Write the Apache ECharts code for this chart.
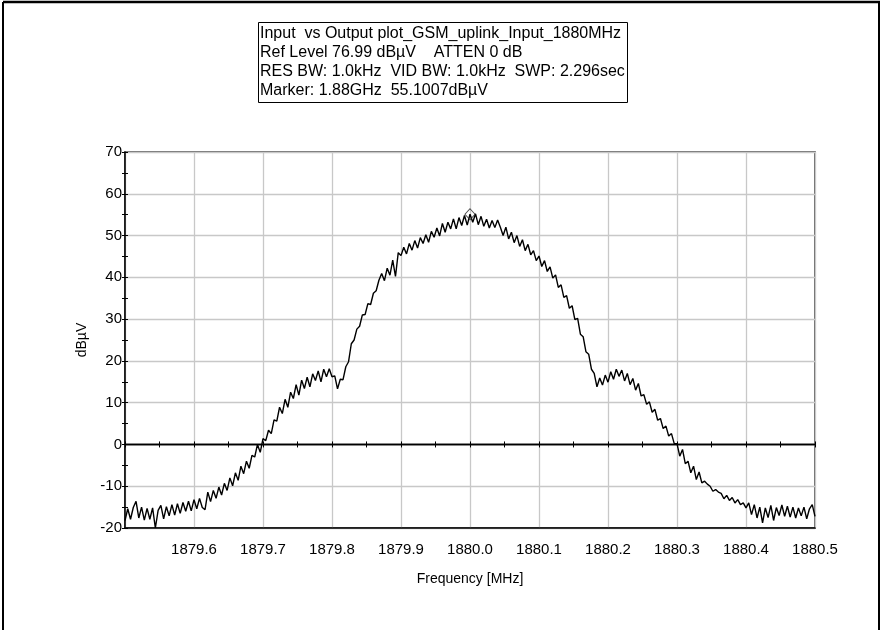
<!DOCTYPE html>
<html>
<head>
<meta charset="utf-8">
<script src="https://cdn.jsdelivr.net/npm/echarts@6/dist/echarts.min.js"></script>
<style>
  html, body { margin: 0; padding: 0; background: #fff; }
  #chart { width: 882px; height: 630px; }
</style>
</head>
<body>
<div id="chart"></div>
<script>
// Spectrum analyser sweep: GSM uplink channel centred on 1880 MHz
const FREQ_START = 1879.5;   // MHz, first sweep point
const FREQ_STEP = 0.004;     // MHz between sweep points

// Measured level at each sweep point, dBµV
const levels = [
  // 1879.500 – 1879.596
  -18.2, -15.4, -17.9, -15.1, -13.6, -17.6, -15.0, -18.1, -15.3, -17.9,
  -15.2, -20.0, -15.8, -14.6, -17.8, -14.9, -17.1, -14.4, -16.9, -14.2,
  -16.5, -13.9, -16.0, -13.6, -15.9,
  // 1879.600 – 1879.696
  -13.2, -15.4, -12.9, -15.1, -15.6, -11.4, -13.7, -11.0, -12.9, -10.2,
  -12.1, -9.3, -11.0, -8.0, -9.9, -6.8, -8.6, -5.2, -7.0, -4.0,
  -5.7, -2.6, -3.0, 0.0, -1.9,
  // 1879.700 – 1879.796
  1.4, 0.9, 3.4, 2.6, 5.9, 5.6, 8.9, 7.4, 10.8, 8.9,
  12.5, 11.0, 14.3, 11.8, 15.4, 13.4, 16.1, 13.8, 16.9, 15.3,
  17.6, 15.0, 18.0, 16.2, 18.1,
  // 1879.800 – 1879.896
  16.2, 16.4, 13.3, 15.6, 15.5, 18.6, 19.8, 24.1, 25.0, 27.6,
  28.3, 31.0, 31.1, 33.7, 33.5, 36.2, 36.8, 39.3, 40.9, 39.2,
  42.2, 40.5, 44.1, 40.2, 45.9,
  // 1879.900 – 1879.996
  45.2, 47.2, 45.6, 48.1, 46.5, 48.8, 47.0, 49.5, 48.1, 50.2,
  48.4, 51.0, 49.6, 51.8, 49.9, 52.9, 50.8, 53.2, 51.6, 54.0,
  51.6, 54.3, 52.4, 54.8, 52.5,
  // 1880.000 – 1880.096
  55.1, 53.2, 55.2, 52.6, 54.6, 52.2, 53.9, 51.8, 53.6, 51.9,
  53.7, 52.0, 50.0, 52.0, 49.2, 50.8, 48.3, 50.0, 47.4, 49.0,
  46.4, 47.9, 45.4, 46.4, 44.0,
  // 1880.100 – 1880.196
  45.1, 42.6, 44.0, 41.4, 42.5, 39.8, 40.6, 37.6, 38.2, 35.2,
  35.6, 32.6, 33.2, 29.9, 30.2, 26.4, 25.8, 22.2, 21.6, 18.0,
  17.0, 13.8, 15.9, 14.2, 16.6,
  // 1880.200 – 1880.296
  14.9, 17.4, 15.6, 18.0, 16.3, 17.8, 15.2, 17.0, 14.3, 15.8,
  13.0, 14.6, 11.6, 11.9, 9.6, 10.2, 7.7, 8.4, 5.8, 6.2,
  3.8, 4.4, 2.0, 2.6, 0.2,
  // 1880.300 – 1880.396
  0.2, -2.8, -1.2, -4.6, -4.0, -6.8, -5.2, -8.4, -6.6, -9.2,
  -8.8, -9.5, -10.0, -11.2, -10.8, -11.4, -11.7, -13.0, -12.2, -13.4,
  -12.7, -14.0, -13.2, -14.4, -14.0,
  // 1880.400 – 1880.500
  -15.2, -14.0, -16.8, -14.4, -17.6, -15.0, -18.8, -15.2, -17.5, -14.6,
  -18.2, -15.1, -17.0, -14.5, -17.2, -14.8, -17.4, -15.0, -17.6, -15.2,
  -17.1, -15.0, -17.8, -15.4, -14.4, -17.2
];

// Marker readout
const markerFreq = [1880.0];
const markerLevel = [55.1];

// Axis settings
const xMin = 1879.5, xMax = 1880.5, xStep = 0.1;
const yMin = -20, yMax = 70, yStep = 10;

// Instrument header text
const headerLines = [
  'Input  vs Output plot_GSM_uplink_Input_1880MHz',
  'Ref Level 76.99 dBµV    ATTEN 0 dB',
  'RES BW: 1.0kHz  VID BW: 1.0kHz  SWP: 2.296sec',
  'Marker: 1.88GHz  55.1007dBµV'
];
const xName = 'Frequency [MHz]';
const yName = 'dBµV';

const FONT = '"Liberation Sans", Arial, sans-serif';

const trace = levels.map((v, i) => [+(FREQ_START + i * FREQ_STEP).toFixed(4), v]);
const markerData = markerFreq.map((f, i) => [f, markerLevel[i]]);

const chart = echarts.init(document.getElementById('chart'), null, { renderer: 'canvas' });

const tickStyle = { color: '#000', width: 1 };

chart.setOption({
  animation: false,
  backgroundColor: '#fff',
  title: {
    text: headerLines.join('\n'),
    left: 258,
    top: 22,
    padding: [2, 3, 3, 2],
    borderColor: '#000',
    borderWidth: 1,
    textStyle: {
      fontFamily: FONT, fontSize: 16, fontWeight: 'normal',
      color: '#000', lineHeight: 19
    }
  },
  grid: {
    left: 125, right: 67, top: 152, bottom: 102,
    show: true, borderColor: '#3a3a3a', borderWidth: 1.5,
    containLabel: false
  },
  xAxis: [
    {
      type: 'value', min: xMin, max: xMax, interval: xStep,
      name: xName, nameLocation: 'middle', nameGap: 44,
      nameTextStyle: { fontFamily: FONT, fontSize: 14, color: '#000' },
      axisLine: { onZero: false, lineStyle: { color: '#000', width: 1.5 } },
      axisTick: { show: false },
      axisLabel: {
        showMinLabel: false, showMaxLabel: true, margin: 14,
        fontFamily: FONT, fontSize: 15, color: '#000',
        formatter: v => v.toFixed(1)
      },
      splitLine: { show: true, lineStyle: { color: '#c8c8c8', width: 1.3 } }
    },
    {
      // zero-level reference line with ticks above it
      type: 'value', min: xMin, max: xMax, interval: xStep / 2,
      axisLine: { onZero: true, lineStyle: { color: '#000', width: 1.3 } },
      axisTick: { show: true, inside: true, length: 3, lineStyle: tickStyle },
      axisLabel: { show: false },
      splitLine: { show: false }
    },
    {
      // ticks below the zero-level line
      type: 'value', min: xMin, max: xMax, interval: xStep / 2,
      axisLine: { onZero: true, lineStyle: { color: '#000', width: 1.3 } },
      axisTick: { show: true, inside: false, length: 3, lineStyle: tickStyle },
      axisLabel: { show: false },
      splitLine: { show: false }
    }
  ],
  yAxis: [
    {
      type: 'value', min: yMin, max: yMax, interval: yStep,
      name: yName, nameLocation: 'middle', nameGap: 35, nameRotate: 90,
      nameTextStyle: { fontFamily: FONT, fontSize: 14, color: '#000' },
      axisLine: { onZero: false, lineStyle: { color: '#000', width: 1.5 } },
      axisTick: { show: true, inside: false, length: 3, lineStyle: tickStyle },
      minorTick: { show: true, splitNumber: 2, length: 3, lineStyle: tickStyle },
      axisLabel: { margin: 3, fontFamily: FONT, fontSize: 15, color: '#000' },
      splitLine: { show: true, lineStyle: { color: '#c8c8c8', width: 1.3 } }
    },
    {
      type: 'value', min: yMin, max: yMax, interval: yStep / 2,
      position: 'left',
      axisLine: { onZero: false, show: false },
      axisTick: { show: true, inside: true, length: 3, lineStyle: tickStyle },
      axisLabel: { show: false },
      splitLine: { show: false }
    }
  ],
  series: [
    {
      type: 'line', name: 'trace', data: trace,
      xAxisIndex: 0, yAxisIndex: 0,
      showSymbol: false, symbol: 'none',
      lineStyle: { color: '#000', width: 1.4 },
      z: 5
    },
    {
      type: 'scatter', name: 'marker', data: markerData,
      xAxisIndex: 0, yAxisIndex: 0,
      symbol: 'diamond', symbolSize: [10, 11],
      itemStyle: { color: 'rgba(255,255,255,0)', borderColor: '#222', borderWidth: 1 },
      z: 6
    }
  ],
  graphic: [
    { type: 'line', shape: { x1: 3, y1: 2, x2: 880, y2: 2 }, style: { stroke: '#000', lineWidth: 2.5 } },
    { type: 'line', shape: { x1: 3, y1: 2, x2: 3, y2: 630 }, style: { stroke: '#000', lineWidth: 2 } },
    { type: 'line', shape: { x1: 879, y1: 2, x2: 879, y2: 630 }, style: { stroke: '#000', lineWidth: 2 } }
  ]
});
</script>
</body>
</html>
